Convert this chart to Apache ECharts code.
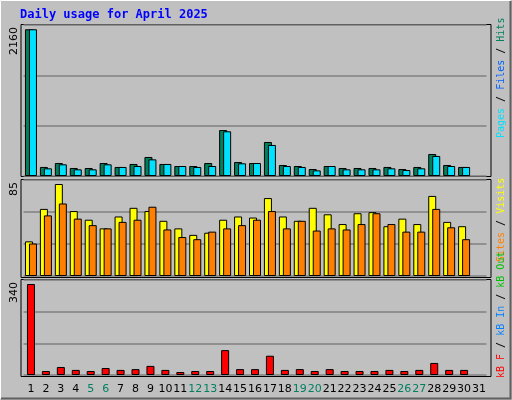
<!DOCTYPE html>
<html>
<head>
<meta charset="utf-8">
<script src="https://cdn.jsdelivr.net/npm/echarts@6/dist/echarts.min.js"></script>
<style>html,body{margin:0;padding:0;background:#c0c0c0}#chart{width:512px;height:400px}</style>
</head>
<body>
<div id="chart"></div>
<script>
// daily webalizer-style usage, April 2025
var days = [];
for (var d = 1; d <= 31; d++) days.push(String(d));
var weekend = ['5', '6', '12', '13', '19', '20', '26', '27'];

// day 31 has no data
var hits   = [2160,133,191,118,118,191,133,177,280,177,147,147,191,677,206,191,501,162,147,103,147,118,118,118,133,103,133,324,162,133];
var files  = [2160,113,172, 98, 98,172,133,147,245,177,147,133,147,658,187,191,457,147,133, 83,147, 98, 98, 98,113, 88,113,295,147,133];
var visits = [32,62,85,60,52,44,55,63,60,51,44,38,40,52,55,54,72,55,51,63,57,48,58,59,46,53,48,74,50,46];
var sites  = [30,56,67,53,47,44,50,52,64,43,36,34,41,44,47,52,60,44,51,42,44,43,48,58,48,41,41,62,45,34];
var kbF    = [340,15,30,19,15,26,19,22,34,19,11,15,15,93,22,22,72,19,22,15,22,15,15,15,19,15,19,45,19,19];

var mono = 'DejaVu Sans Mono';
var chart = echarts.init(document.getElementById('chart'));

function panelX(idx, showLabels) {
    return {
        type: 'category', gridIndex: idx, data: days,
        axisLine: { show: false }, axisTick: { show: false },
        axisLabel: {
            show: showLabels, interval: 0, fontFamily: 'DejaVu Sans', fontSize: 11, margin: 9,
            color: function (v) { return weekend.indexOf(v) >= 0 ? '#008060' : '#000'; }
        }
    };
}
function panelY(idx, max) {
    return {
        type: 'value', gridIndex: idx, min: 0, max: max, interval: max / 3,
        axisLine: { show: false }, axisTick: { show: false }, axisLabel: { show: false },
        splitLine: { lineStyle: { color: '#808080', width: 1.5 } }
    };
}
function bars(name, data, color, gi) {
    return {
        name: name, type: 'bar', data: data, xAxisIndex: gi, yAxisIndex: gi,
        barWidth: 8, barGap: '-50%', animation: false,
        itemStyle: { color: color, borderColor: '#000', borderWidth: 1 }
    };
}
function frame(y, h) {
    return { type: 'rect', z: -1, shape: { x: 21, y: y, width: 470, height: h }, style: { fill: 'none', stroke: '#000', lineWidth: 1 } };
}
function vtext(x, y, parts) {
    var rich = {};
    var cols = { cy: '#00e0ff', bl: '#0060ff', gr: '#00805c', ye: '#ffff00', or: '#ff8000', rd: '#ff0000', lb: '#0080ff', lg: '#00c000', k: '#000' };
    for (var k in cols) rich[k] = { fill: cols[k], fontFamily: mono, fontSize: 10 };
    return {
        type: 'text', x: x, y: y, rotation: Math.PI / 2,
        style: {
            text: parts.map(function (p) { return '{' + p[1] + '|' + p[0] + '}'; }).join(''),
            align: 'left', verticalAlign: 'middle', font: '10px ' + mono, rich: rich
        }
    };
}

var option = {
    backgroundColor: '#c0c0c0',
    grid: [
        { left: 23.5, top: 25, width: 463, height: 151 },
        { left: 23.5, top: 180, width: 463, height: 96 },
        { left: 23.5, top: 280, width: 463, height: 95 }
    ],
    xAxis: [panelX(0, false), panelX(1, false), panelX(2, true)],
    yAxis: [panelY(0, 2223), panelY(1, 88.7), panelY(2, 355)],
    series: [
        bars('Hits', hits, '#00805c', 0),
        bars('Files', files, '#00e0ff', 0),
        bars('Visits', visits, '#ffff00', 1),
        bars('Sites', sites, '#ff8000', 1),
        bars('kB F', kbF, '#ff0000', 2)
    ],
    graphic: [
        { type: 'rect', shape: { x: 0.5, y: 0.5, width: 510, height: 398 }, style: { fill: 'none', stroke: '#fff', lineWidth: 1 } },
        { type: 'polyline', shape: { points: [[1, 398.5], [510.5, 398.5], [510.5, 1]] }, style: { stroke: '#606060', lineWidth: 2, fill: 'none' } },
        frame(24.5, 152), frame(179.5, 98), frame(279.5, 97),
        { type: 'text', x: 20, y: 15, style: { text: 'Daily usage for April 2025', font: 'bold 12px ' + mono, fill: '#0000ff', verticalAlign: 'middle' } },
        { type: 'text', x: 14, y: 27, rotation: Math.PI / 2, style: { text: '2160', font: '11px DejaVu Sans', fill: '#000', align: 'right', verticalAlign: 'middle' } },
        { type: 'text', x: 14, y: 182, rotation: Math.PI / 2, style: { text: '85', font: '11px DejaVu Sans', fill: '#000', align: 'right', verticalAlign: 'middle' } },
        { type: 'text', x: 14, y: 282, rotation: Math.PI / 2, style: { text: '340', font: '11px DejaVu Sans', fill: '#000', align: 'right', verticalAlign: 'middle' } },
        vtext(501, 138, [['Pages', 'cy'], [' / ', 'k'], ['Files', 'bl'], [' / ', 'k'], ['Hits', 'gr']]),
        vtext(501, 262, [['Sites', 'or'], [' / ', 'k'], ['Visits', 'ye']]),
        vtext(501, 378, [['kB F', 'rd'], [' / ', 'k'], ['kB In', 'lb'], [' / ', 'k'], ['kB Out', 'lg']])
    ]
};
chart.setOption(option);
</script>
</body>
</html>
